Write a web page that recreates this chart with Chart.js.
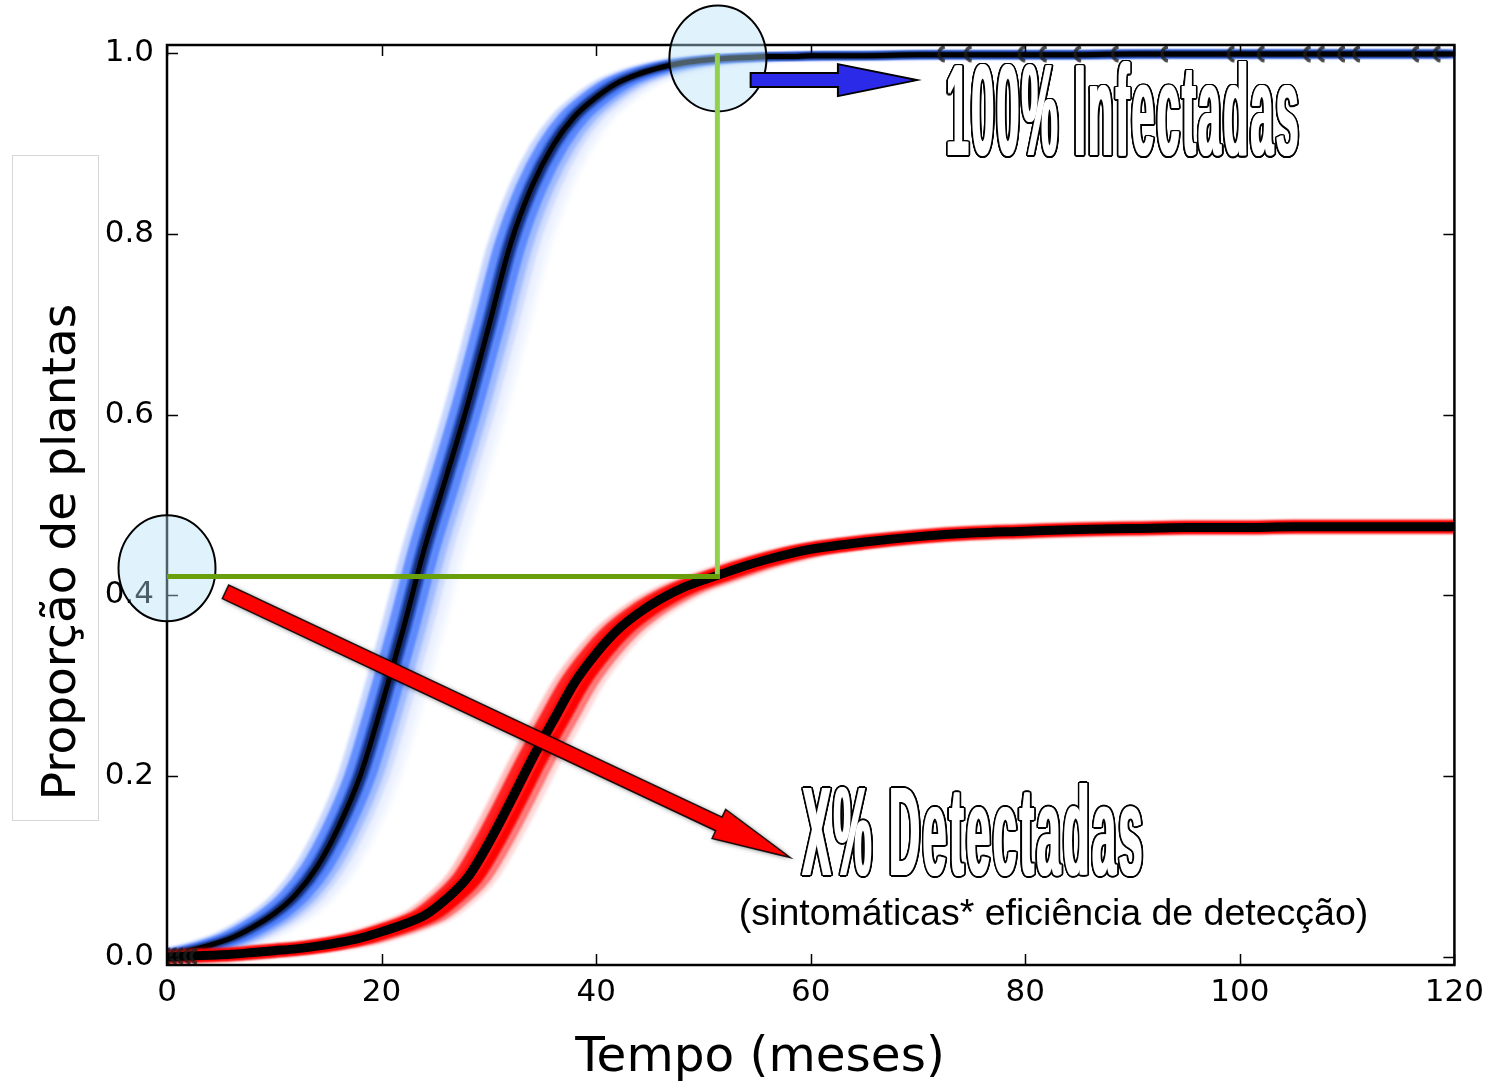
<!DOCTYPE html>
<html><head><meta charset="utf-8">
<script src="https://cdn.jsdelivr.net/npm/chart.js@4"></script>
<style>html,body{margin:0;padding:0;background:#fff;}canvas{display:block;}</style>
</head><body>
<canvas id="c" width="1493" height="1084"></canvas>
<script>
// ---------------- data ----------------
const months = [0,2,4,6,8,10,12,14,16,18,20,22,24,26,28,30,32,34,36,38,40,42,44,46,48,50,52,54,56,58,60,
                65,70,75,80,85,90,95,100,105,110,115,120];
const infectadas = [0.003,0.007,0.013,0.021,0.033,0.048,0.069,0.100,0.144,0.200,0.278,0.362,0.452,0.530,0.610,0.698,0.788,0.852,0.898,0.930,0.951,0.967,0.977,0.984,0.989,0.992,0.994,0.995,0.996,0.996,0.997,
                    0.997,0.998,0.998,0.998,0.998,0.999,0.999,0.999,0.999,0.999,0.999,0.999];
const detectadas = [0.000,0.001,0.002,0.003,0.005,0.007,0.009,0.012,0.016,0.021,0.028,0.036,0.046,0.064,0.088,0.127,0.172,0.219,0.262,0.304,0.336,0.362,0.381,0.396,0.408,0.417,0.425,0.433,0.440,0.446,0.451,
                    0.459,0.465,0.469,0.471,0.473,0.474,0.475,0.475,0.476,0.476,0.476,0.476];
const xTickValues = [0,20,40,60,80,100,120];
const xTickLabels = ['0','20','40','60','80','100','120'];
const yTickValues = [0,0.2,0.4,0.6,0.8,1.0];
const yTickLabels = ['0.0','0.2','0.4','0.6','0.8','1.0'];
const topMarkerMonths = [72.5,75.0,80.0,82.0,85.2,88.7,93.3,99.5,102.3,106.6,107.9,109.8,111.2,116.7,118.7];
const topMarkerValues = [0.999,0.999,0.999,0.999,0.999,0.999,0.999,0.999,0.999,0.999,0.999,0.999,0.999,0.999,0.999];
const startMarkerMonths = [0.3,0.9,1.5,2.2,2.8];
const startMarkerValues = [0.001,0.001,0.001,0.001,0.001];
const yTitle = 'Proporção de plantas';
const xTitle = 'Tempo (meses)';
const labelInfect = '100% Infectadas';
const labelDetect = 'X% Detectadas';
const labelNote = '(sintomáticas* eficiência de detecção)';

// annotation anchors in data units
const ann = {
  topCircle: {x:51.35, y:0.994},
  leftCircle: {x:0, y:0.430},
  corner: {x:51.3, y:0.421},
  blueArrow: {x0:54.4, y0:0.970, x1:69.9, y1:0.970},
  redArrow: {x0:5.45, y0:0.404, x1:58.1, y1:0.110},
  infect: {x:72.4, y:0.887},
  detect: {x:59.0, y:0.0907},
  note: {x:53.3, y:0.0354}
};

// ---------------- styles ----------------
const blueLayers = [
  {off:3.6, c:'rgba(160,185,255,0.10)', w:7, b:2},
  {off:3.0, c:'rgba(150,180,255,0.18)', w:7, b:2},
  {off:2.4, c:'rgba(125,160,255,0.35)', w:7, b:1.5},
  {off:-1.8,c:'rgba(110,150,255,0.40)', w:7, b:1.5},
  {off:1.8, c:'rgba(95,140,255,0.60)', w:7, b:1.5},
  {off:-1.2,c:'rgba(75,125,255,0.85)', w:7, b:1.2},
  {off:1.2, c:'rgba(75,125,255,0.90)', w:7, b:1.2},
  {off:-0.6,c:'#3d6fee', w:7, b:1},
  {off:0.6, c:'#3d6fee', w:7, b:1},
  {off:-0.3,c:'#142c70', w:6, b:1},
  {off:0.3, c:'#142c70', w:6, b:1},
  {off:0,   c:'#000000', w:5, b:0.6}
];
const redLayers = [
  {off:2.4, c:'rgba(255,80,80,0.22)', w:9, b:1.5},
  {off:-1.6,c:'rgba(255,60,60,0.35)', w:9, b:1.5},
  {off:1.8, c:'rgba(255,30,30,0.55)', w:9, b:1.2},
  {off:-1.0,c:'#ff2020', w:9, b:1},
  {off:1.1, c:'#ff0000', w:9, b:1},
  {off:0,   c:'#ff0000', w:14, b:0.8},
  {off:0.15,c:'#000000', w:7, b:0.6},
  {off:0,   c:'#000000', w:9, b:0.5}
];

function hookCanvas(){
  const c=document.createElement('canvas'); c.width=22; c.height=22;
  const g=c.getContext('2d'); g.strokeStyle='rgba(30,30,30,0.8)'; g.lineWidth=3.5;
  g.beginPath(); g.arc(12,11,7,0.55*Math.PI,1.45*Math.PI); g.stroke();
  return c;
}
const hook = hookCanvas();

const datasets = [];
function addLayers(values, layers){
  layers.forEach(L=>{
    datasets.push({
      data: months.map((m,i)=>({x:m+L.off, y:values[i]})),
      borderColor:L.c, borderWidth:L.w, pointRadius:0, fill:false,
      cubicInterpolationMode:'monotone', _blur:L.b
    });
  });
}
addLayers(infectadas, blueLayers);
addLayers(detectadas, redLayers);
datasets.push({data: topMarkerMonths.map((m,i)=>({x:m,y:topMarkerValues[i]})), showLine:false,
  pointStyle:hook, pointRadius:11, borderWidth:0});
datasets.push({data: startMarkerMonths.map((m,i)=>({x:m,y:startMarkerValues[i]})), showLine:false,
  pointStyle:hook, pointRadius:11, borderWidth:0});
datasets.forEach((d,i)=>{ d.order = -i; });

// ---------------- drawing helpers ----------------
function arrow(ctx, x0,y0,x1,y1, sh, hh, hl){
  const dx=x1-x0, dy=y1-y0, L=Math.hypot(dx,dy), ux=dx/L, uy=dy/L, nx=-uy, ny=ux;
  const bx=x1-ux*hl, by=y1-uy*hl;
  ctx.beginPath();
  ctx.moveTo(x0+nx*sh, y0+ny*sh);
  ctx.lineTo(bx+nx*sh, by+ny*sh);
  ctx.lineTo(bx+nx*hh, by+ny*hh);
  ctx.lineTo(x1,y1);
  ctx.lineTo(bx-nx*hh, by-ny*hh);
  ctx.lineTo(bx-nx*sh, by-ny*sh);
  ctx.lineTo(x0-nx*sh, y0-ny*sh);
  ctx.closePath();
}
function outlinedText(ctx, text, left, base, targetW, capH){
  const fs = capH/0.716;
  ctx.save();
  ctx.font = `bold ${fs}px "Liberation Sans Narrow", "Liberation Sans", Arial, sans-serif`;
  try { ctx.letterSpacing = '9px'; } catch(e) {}
  const w = ctx.measureText(text).width;
  const grow = 1, ring = 1.6;
  const sx = (targetW - 2*(grow+ring)) / w;
  ctx.textBaseline='alphabetic'; ctx.textAlign='left';
  ctx.fillStyle='#000';
  const offs=[];
  for(let k=0;k<16;k++){ const t=k*Math.PI/8; offs.push([Math.cos(t)*ring, Math.sin(t)*ring]); }
  for(let gx=-grow; gx<=grow; gx++){
    offs.forEach(o=>{
      ctx.setTransform(sx,0,0,1,left+grow+ring+gx+o[0], base+o[1]);
      ctx.fillText(text,0,0);
    });
  }
  ctx.fillStyle='#fff';
  for(let gx=-grow; gx<=grow; gx++){
    ctx.setTransform(sx,0,0,1,left+grow+ring+gx, base);
    ctx.fillText(text,0,0);
  }
  ctx.restore();
}

const decor = {
  id:'decor',
  beforeDraw(chart){
    const ctx=chart.ctx; ctx.save();
    ctx.fillStyle='#fff'; ctx.fillRect(0,0,chart.width,chart.height);
    ctx.fillStyle='#fff'; ctx.strokeStyle='#d6d6d6'; ctx.lineWidth=1;
    ctx.fillRect(12.5,155.5,86,665); ctx.strokeRect(12.5,155.5,86,665);
    ctx.fillStyle='#000'; ctx.font='47px "DejaVu Sans"';
    ctx.translate(75,552); ctx.rotate(-Math.PI/2);
    ctx.textAlign='center'; ctx.textBaseline='alphabetic';
    ctx.fillText(yTitle,0,0);
    ctx.restore();
    ctx.save(); ctx.fillStyle='#000'; ctx.font='48.5px "DejaVu Sans"';
    ctx.textAlign='center'; ctx.textBaseline='alphabetic';
    ctx.fillText(xTitle,760,1071);
    ctx.restore();
  },
  beforeDatasetDraw(chart,args){
    const ds=chart.data.datasets[args.index];
    if(ds._blur){ chart.ctx.save(); chart.ctx.filter=`blur(${ds._blur}px)`; ds._on=true; }
  },
  afterDatasetDraw(chart,args){
    const ds=chart.data.datasets[args.index];
    if(ds._on){ chart.ctx.restore(); ds._on=false; }
  },
  afterDatasetsDraw(chart){
    const ctx=chart.ctx, a=chart.chartArea, xs=chart.scales.x, ys=chart.scales.y;
    const px=v=>xs.getPixelForValue(v), py=v=>ys.getPixelForValue(v);
    ctx.save();
    ctx.strokeStyle='#000'; ctx.lineWidth=1.5;
    ctx.beginPath();
    xTickValues.forEach(v=>{ const x=Math.round(px(v))+0.5;
      ctx.moveTo(x,a.bottom); ctx.lineTo(x,a.bottom-11);
      ctx.moveTo(x,a.top); ctx.lineTo(x,a.top+11); });
    yTickValues.forEach(v=>{ const y=Math.round(py(v))+0.5;
      ctx.moveTo(a.left,y); ctx.lineTo(a.left+11,y);
      ctx.moveTo(a.right,y); ctx.lineTo(a.right-11,y); });
    ctx.stroke();
    ctx.lineWidth=2.5; ctx.strokeRect(a.left,a.top,a.right-a.left,a.bottom-a.top);
    // circles
    ctx.fillStyle='rgba(180,225,245,0.42)'; ctx.strokeStyle='#000'; ctx.lineWidth=2;
    [ann.topCircle, ann.leftCircle].forEach(c=>{
      ctx.beginPath(); ctx.ellipse(px(c.x),py(c.y),48.5,53,0,0,2*Math.PI); ctx.fill(); ctx.stroke();
    });
    // green guide lines
    ctx.lineCap='butt';
    ctx.strokeStyle='#92d050'; ctx.lineWidth=5;
    ctx.beginPath(); ctx.moveTo(px(ann.corner.x),py(1.0)); ctx.lineTo(px(ann.corner.x),py(ann.corner.y)+2.5); ctx.stroke();
    ctx.strokeStyle='#689f0a';
    ctx.beginPath(); ctx.moveTo(px(0),py(ann.corner.y)); ctx.lineTo(px(ann.corner.x)+2.5,py(ann.corner.y)); ctx.stroke();
    // blue arrow
    const B=ann.blueArrow;
    arrow(ctx,px(B.x0),py(B.y0),px(B.x1),py(B.y1),7,16,79);
    ctx.fillStyle='#2a2ae8'; ctx.fill(); ctx.strokeStyle='#000'; ctx.lineWidth=2; ctx.lineJoin='miter'; ctx.stroke();
    // red arrow with soft shadow
    const R=ann.redArrow;
    ctx.save();
    ctx.shadowColor='rgba(0,0,0,0.55)'; ctx.shadowBlur=5; ctx.shadowOffsetX=1; ctx.shadowOffsetY=1;
    arrow(ctx,px(R.x0),py(R.y0),px(R.x1),py(R.y1),7.5,16,79);
    ctx.fillStyle='#ff0000'; ctx.fill();
    ctx.restore();
    arrow(ctx,px(R.x0),py(R.y0),px(R.x1),py(R.y1),7.5,16,79);
    ctx.strokeStyle='rgba(0,0,0,0.85)'; ctx.lineWidth=1.5; ctx.stroke();
    ctx.restore();
    // texts
    outlinedText(ctx,labelInfect,px(ann.infect.x),py(ann.infect.y),360,93);
    outlinedText(ctx,labelDetect,px(ann.detect.x),py(ann.detect.y),348,90);
    ctx.save(); ctx.fillStyle='#000'; ctx.font='37.5px "Liberation Sans", Arial, sans-serif';
    ctx.textAlign='left'; ctx.textBaseline='alphabetic';
    ctx.fillText(labelNote,px(ann.note.x),py(ann.note.y));
    ctx.restore();
  }
};

new Chart(document.getElementById('c'), {
  type:'line',
  data:{datasets},
  plugins:[decor],
  options:{
    responsive:false, animation:false, devicePixelRatio:1,
    layout:{padding:{top:45,right:36,left:0,bottom:0}},
    plugins:{legend:{display:false}, tooltip:{enabled:false}},
    events:[],
    scales:{
      x:{type:'linear', min:0, max:120,
         afterBuildTicks:s=>{ s.ticks = xTickValues.map(v=>({value:v})); },
         afterFit:s=>{ s.height=119; },
         grid:{display:false, drawTicks:false}, border:{display:false},
         ticks:{autoSkip:false, maxRotation:0, padding:9, color:'#000',
                font:{family:'DejaVu Sans', size:31},
                callback:(v)=>xTickLabels[xTickValues.indexOf(v)]}},
      y:{type:'linear', min:-0.00885, max:1.00885,
         afterBuildTicks:s=>{ s.ticks = yTickValues.map(v=>({value:v})); },
         afterFit:s=>{ s.width=167; },
         grid:{display:false, drawTicks:false}, border:{display:false},
         ticks:{padding:13, color:'#000', font:{family:'DejaVu Sans', size:31},
                callback:(v)=>yTickLabels[yTickValues.indexOf(v)]}}
    }
  }
});
</script>
</body></html>
